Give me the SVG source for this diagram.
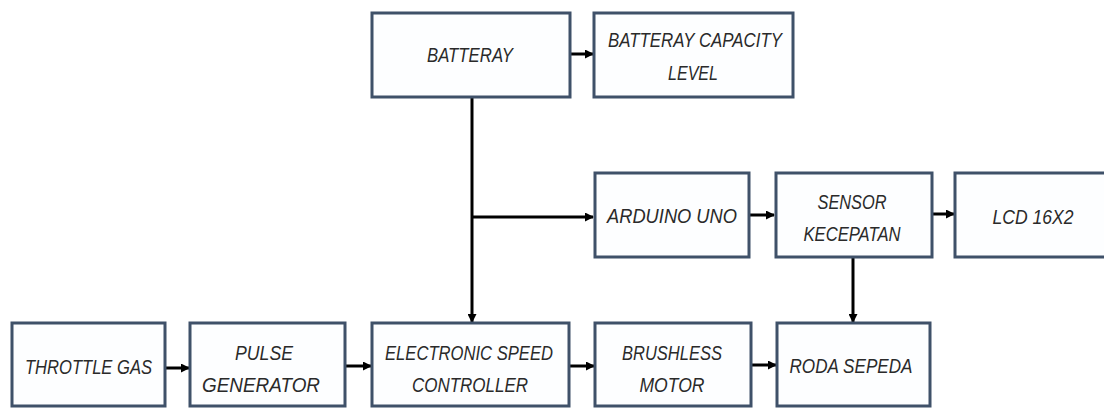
<svg xmlns="http://www.w3.org/2000/svg" width="1104" height="408" viewBox="0 0 1104 408">
<style>
.box{fill:#fdfeff;stroke:#3f5169;stroke-width:3}
.t{font-family:"Liberation Sans",Arial,sans-serif;font-style:italic;font-size:21px;fill:#2a2a2a;text-anchor:middle}
.c{stroke:#000;stroke-width:3;fill:none}
</style>
<defs>
<marker id="ah" markerWidth="9" markerHeight="9" refX="8" refY="4.5" orient="auto" markerUnits="userSpaceOnUse">
<path d="M0,0 L9,4.5 L0,9 Z" fill="#000"/>
</marker>
</defs>
<rect width="1104" height="408" fill="#fff"/>
<g id="connectors">
<line class="c" x1="571" y1="54" x2="593" y2="54" marker-end="url(#ah)"/>
<line class="c" x1="472" y1="98" x2="472" y2="322" marker-end="url(#ah)"/>
<line class="c" x1="472" y1="217" x2="593" y2="217" marker-end="url(#ah)"/>
<line class="c" x1="750" y1="215" x2="774" y2="215" marker-end="url(#ah)"/>
<line class="c" x1="933" y1="214" x2="954" y2="214" marker-end="url(#ah)"/>
<line class="c" x1="853" y1="258" x2="853" y2="322" marker-end="url(#ah)"/>
<line class="c" x1="166" y1="368" x2="189" y2="368" marker-end="url(#ah)"/>
<line class="c" x1="346" y1="366" x2="371" y2="366" marker-end="url(#ah)"/>
<line class="c" x1="570" y1="366" x2="594" y2="366" marker-end="url(#ah)"/>
<line class="c" x1="752" y1="365" x2="776" y2="365" marker-end="url(#ah)"/>
</g>
<g id="batteray"><rect class="box" x="372" y="13" width="198" height="84"/><text class="t" x="470" y="62" textLength="86" lengthAdjust="spacingAndGlyphs">BATTERAY</text></g>
<g id="capacity"><rect class="box" x="594" y="13" width="199" height="84"/><text class="t" x="695" y="47" textLength="174" lengthAdjust="spacingAndGlyphs">BATTERAY CAPACITY</text><text class="t" x="693" y="80" textLength="50" lengthAdjust="spacingAndGlyphs">LEVEL</text></g>
<g id="arduino"><rect class="box" x="595" y="173" width="154" height="84"/><text class="t" x="672" y="223" textLength="130" lengthAdjust="spacingAndGlyphs">ARDUINO UNO</text></g>
<g id="sensor"><rect class="box" x="776" y="173" width="156" height="84"/><text class="t" x="852" y="209" textLength="69" lengthAdjust="spacingAndGlyphs">SENSOR</text><text class="t" x="852" y="241" textLength="97" lengthAdjust="spacingAndGlyphs">KECEPATAN</text></g>
<g id="lcd"><rect class="box" x="955" y="173" width="156" height="84"/><text class="t" x="1033" y="224" textLength="81" lengthAdjust="spacingAndGlyphs">LCD 16X2</text></g>
<g id="throttle"><rect class="box" x="12" y="323" width="153" height="83"/><text class="t" x="88.5" y="374" textLength="127" lengthAdjust="spacingAndGlyphs">THROTTLE GAS</text></g>
<g id="pulse"><rect class="box" x="190" y="323" width="155" height="83"/><text class="t" x="264" y="360" textLength="58" lengthAdjust="spacingAndGlyphs">PULSE</text><text class="t" x="261" y="392" textLength="118" lengthAdjust="spacingAndGlyphs">GENERATOR</text></g>
<g id="esc"><rect class="box" x="372" y="323" width="197" height="83"/><text class="t" x="469" y="360" textLength="168" lengthAdjust="spacingAndGlyphs">ELECTRONIC SPEED</text><text class="t" x="470" y="392" textLength="116" lengthAdjust="spacingAndGlyphs">CONTROLLER</text></g>
<g id="brushless"><rect class="box" x="595" y="323" width="156" height="83"/><text class="t" x="672" y="360" textLength="100" lengthAdjust="spacingAndGlyphs">BRUSHLESS</text><text class="t" x="672" y="392" textLength="65" lengthAdjust="spacingAndGlyphs">MOTOR</text></g>
<g id="roda"><rect class="box" x="777" y="323" width="153" height="83"/><text class="t" x="851" y="373" textLength="123" lengthAdjust="spacingAndGlyphs">RODA SEPEDA</text></g>
</svg>
